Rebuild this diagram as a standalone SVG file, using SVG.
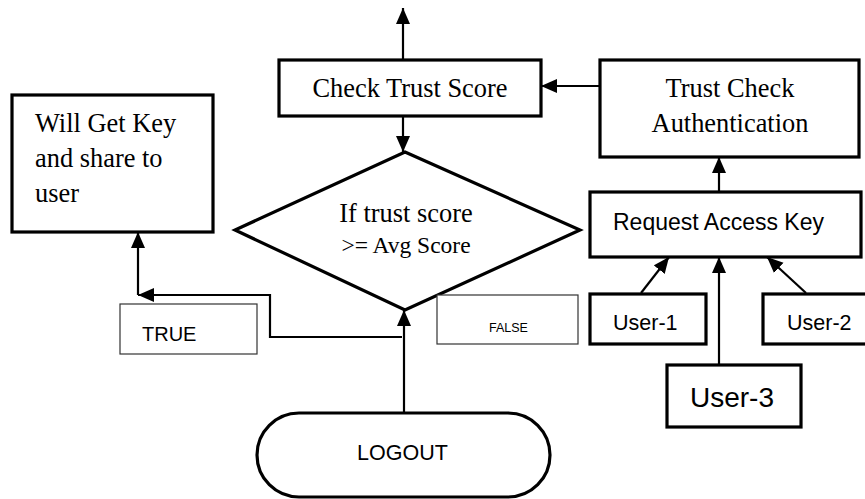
<svg xmlns="http://www.w3.org/2000/svg" width="865" height="499" viewBox="0 0 865 499">
<style>
.box{fill:#fff;stroke:#000;stroke-width:3.2}
.thin{fill:#fff;stroke:#333;stroke-width:1.2}
.serif{font-family:"Liberation Serif","Times New Roman",serif;font-size:26.4px;fill:#000}
.sans{font-family:"Liberation Sans",Arial,sans-serif;fill:#000}
.conn{fill:none;stroke:#000;stroke-width:2.2}
</style>
<defs>
<marker id="ah" markerUnits="userSpaceOnUse" markerWidth="17" markerHeight="15" refX="16" refY="7" orient="auto">
<path d="M0,0 L16,7 L0,14 z" fill="#000"/>
</marker>
</defs>
<g id="will-get-key">
<rect class="box" x="12" y="95" width="201" height="137"/>
<text class="serif" x="35" y="132">Will Get Key</text>
<text class="serif" x="35" y="167">and share to</text>
<text class="serif" x="35" y="202">user</text>
</g>
<g id="check-trust-score">
<rect class="box" x="279" y="60" width="262" height="56"/>
<text class="serif" x="410" y="97" text-anchor="middle">Check Trust Score</text>
</g>
<g id="trust-check-auth">
<rect class="box" x="600" y="60" width="259" height="97"/>
<text class="serif" x="730" y="97" text-anchor="middle">Trust Check</text>
<text class="serif" x="730" y="132" text-anchor="middle">Authentication</text>
</g>
<g id="decision">
<polygon class="box" points="405,152 580,230 405,310 235,230"/>
<text class="serif" x="406" y="222" text-anchor="middle">If trust score</text>
<text class="serif" x="406" y="253" text-anchor="middle" style="font-size:23.5px">&gt;= Avg Score</text>
</g>
<g id="request-access-key">
<rect class="box" x="590" y="192" width="271" height="65"/>
<text class="sans" x="613" y="230" style="font-size:23px">Request Access Key</text>
</g>
<g id="true-label">
<rect class="thin" x="120" y="304" width="137" height="50"/>
<text class="sans" x="142" y="341" style="font-size:20px">TRUE</text>
</g>
<g id="false-label">
<rect class="thin" x="437" y="295" width="141" height="49"/>
<text class="sans" x="489" y="332" style="font-size:12.5px">FALSE</text>
</g>
<g id="user-1">
<rect class="box" x="590" y="294" width="116" height="50"/>
<text class="sans" x="613" y="330" style="font-size:21.5px">User-1</text>
</g>
<g id="user-2">
<rect class="box" x="763" y="294" width="104" height="50"/>
<text class="sans" x="787" y="330" style="font-size:21.5px">User-2</text>
</g>
<g id="user-3">
<rect class="box" x="667" y="365" width="134" height="62"/>
<text class="sans" x="690" y="407" style="font-size:28px">User-3</text>
</g>
<g id="logout">
<rect class="box" x="257" y="413" width="293" height="84" rx="42" ry="42"/>
<text class="sans" x="357" y="460" style="font-size:21.5px">LOGOUT</text>
</g>
<g id="connectors">
<line class="conn" x1="403" y1="60" x2="403" y2="8" marker-end="url(#ah)"/>
<line class="conn" x1="403" y1="116" x2="403" y2="152" marker-end="url(#ah)"/>
<line class="conn" x1="600" y1="86" x2="541" y2="86" marker-end="url(#ah)"/>
<line class="conn" x1="719" y1="192" x2="719" y2="157" marker-end="url(#ah)"/>
<line class="conn" x1="641" y1="293" x2="669" y2="257" marker-end="url(#ah)"/>
<line class="conn" x1="806" y1="293" x2="767" y2="257" marker-end="url(#ah)"/>
<line class="conn" x1="719" y1="365" x2="719" y2="257" marker-end="url(#ah)"/>
<line class="conn" x1="404" y1="413" x2="404" y2="310" marker-end="url(#ah)"/>
<path class="conn" d="M402,337 H270 V295 H138" marker-end="url(#ah)"/>
<line class="conn" x1="138" y1="295" x2="138" y2="232" marker-end="url(#ah)"/>
</g>
</svg>
